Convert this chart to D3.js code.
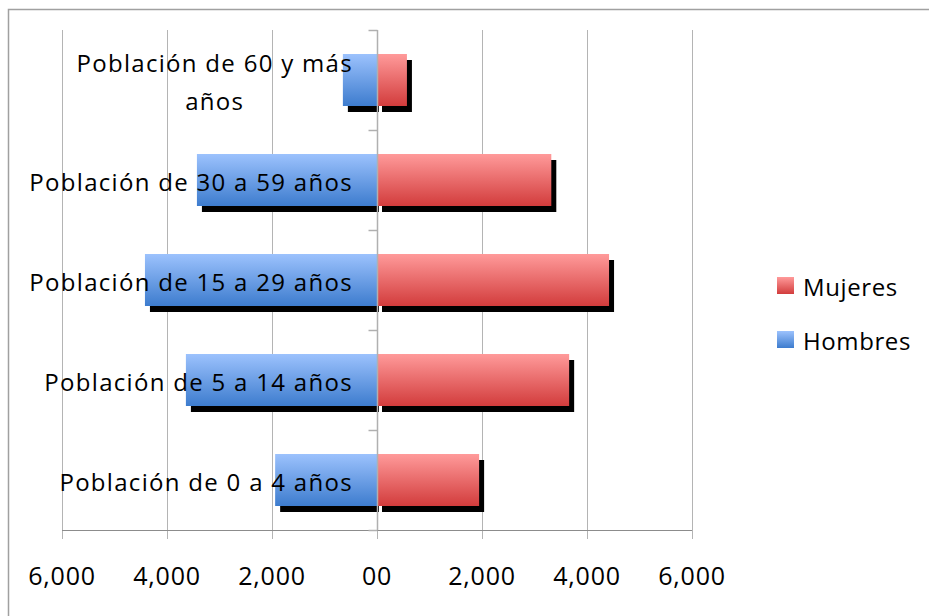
<!DOCTYPE html>
<html>
<head>
<meta charset="utf-8">
<script src="https://cdn.jsdelivr.net/npm/d3@7"></script>
<style>
  html, body { margin: 0; padding: 0; background: #ffffff; }
  svg { display: block; }
  text { font-family: "Open Sans", "DejaVu Sans", sans-serif; fill: #000; }
</style>
</head>
<body>
<svg id="chart" width="929" height="616"></svg>
<script>
// Age groups, bottom to top
const categories = [
  "Población de 0 a 4 años",
  "Población de 5 a 14 años",
  "Población de 15 a 29 años",
  "Población de 30 a 59 años",
  "Población de 60 y más años"
];
// Two-line layout for the longest label
const categoryLines = [
  ["Población de 0 a 4 años"],
  ["Población de 5 a 14 años"],
  ["Población de 15 a 29 años"],
  ["Población de 30 a 59 años"],
  ["Población de 60 y más", "años"]
];
const hombres = [1940, 3640, 4420, 3430, 650];
const mujeres = [1945, 3660, 4420, 3320, 570];
const tickValues = [-6000, -4000, -2000, 0, 2000, 4000, 6000];
const tickLabels = ["6,000", "4,000", "2,000", "00", "2,000", "4,000", "6,000"];
const seriesNames = ["Mujeres", "Hombres"];

const svg = d3.select("#chart");
const defs = svg.append("defs");

function vGrad(id, top, bottom) {
  const g = defs.append("linearGradient").attr("id", id)
    .attr("x1", 0).attr("y1", 0).attr("x2", 0).attr("y2", 1);
  g.append("stop").attr("offset", "0%").attr("stop-color", top);
  g.append("stop").attr("offset", "100%").attr("stop-color", bottom);
}
vGrad("gBlue", "#9cc2fd", "#3d7cce");
vGrad("gRed", "#ff9a9a", "#d23c3c");

// Outer frame
svg.append("rect")
  .attr("x", 8.5).attr("y", 9.5).attr("width", 940).attr("height", 640)
  .attr("fill", "none").attr("stroke", "#a0a0a0").attr("stroke-width", 1.5);

const x = d3.scaleLinear().domain([-6000, 6000]).range([62, 692]);
const y = d3.scaleBand()
  .domain(categories.slice().reverse())
  .range([30, 530])
  .paddingInner(0.48)
  .paddingOuter(0.24);

const plotTop = 30, plotBottom = 530;

// Vertical gridlines (extend below the axis as tick marks)
svg.append("g").selectAll("line")
  .data(tickValues)
  .join("line")
  .attr("x1", d => Math.round(x(d)) + 0.5)
  .attr("x2", d => Math.round(x(d)) + 0.5)
  .attr("y1", plotTop)
  .attr("y2", plotBottom + 9)
  .attr("stroke", "#b4b4b4")
  .attr("stroke-width", 1);

// Horizontal axis line
svg.append("line")
  .attr("x1", x(-6000)).attr("x2", x(6000))
  .attr("y1", plotBottom + 0.5).attr("y2", plotBottom + 0.5)
  .attr("stroke", "#8c8c8c").attr("stroke-width", 1.2);

// X tick labels
svg.append("g").selectAll("text")
  .data(tickValues)
  .join("text")
  .attr("x", d => x(d))
  .attr("y", 585)
  .attr("text-anchor", "middle")
  .style("font-size", "25px")
  .style("letter-spacing", "0.8px")
  .text((d, i) => tickLabels[i]);

const rows = categories.map((c, i) => ({ c, h: hombres[i], m: mujeres[i], lines: categoryLines[i] }));
const bh = y.bandwidth();

// Drop shadows
const shadows = svg.append("g");
shadows.selectAll("rect.sh")
  .data(rows)
  .join("rect")
  .attr("class", "sh")
  .attr("x", d => x(-d.h) + 5)
  .attr("y", d => y(d.c) + 6)
  .attr("width", d => x(0) - x(-d.h) - 3)
  .attr("height", bh)
  .attr("fill", "#000");
shadows.selectAll("rect.sm")
  .data(rows)
  .join("rect")
  .attr("class", "sm")
  .attr("x", d => x(0) + 5)
  .attr("y", d => y(d.c) + 6)
  .attr("width", d => x(d.m) - x(0))
  .attr("height", bh)
  .attr("fill", "#000");

// Bars
svg.append("g").selectAll("rect")
  .data(rows)
  .join("rect")
  .attr("x", d => x(-d.h))
  .attr("y", d => y(d.c))
  .attr("width", d => x(0) - x(-d.h))
  .attr("height", bh)
  .attr("fill", "url(#gBlue)");
svg.append("g").selectAll("rect")
  .data(rows)
  .join("rect")
  .attr("x", d => x(0))
  .attr("y", d => y(d.c))
  .attr("width", d => x(d.m) - x(0))
  .attr("height", bh)
  .attr("fill", "url(#gRed)");

// Vertical category axis at zero with small ticks between groups
const x0 = Math.round(x(0)) + 0.5;
svg.append("line")
  .attr("x1", x0).attr("x2", x0)
  .attr("y1", plotTop).attr("y2", plotBottom)
  .attr("stroke", "#b0b0b0").attr("stroke-width", 1.5);
const bounds = d3.range(0, categories.length + 1).map(i => plotTop + i * y.step());
svg.append("g").selectAll("line")
  .data(bounds)
  .join("line")
  .attr("x1", x0 - 9).attr("x2", x0)
  .attr("y1", d => Math.round(d) + 0.5).attr("y2", d => Math.round(d) + 0.5)
  .attr("stroke", "#b0b0b0").attr("stroke-width", 1.5);

// Category labels, right edge a little left of the axis
const labelRight = 353;
const lg = svg.append("g");
rows.forEach(r => {
  const cy = y(r.c) + bh / 2;
  const lineH = 38;
  const t = lg.append("text")
    .attr("text-anchor", "middle")
    .style("font-size", "24px")
    .style("letter-spacing", "1.3px");
  r.lines.forEach((ln, k) => {
    t.append("tspan")
      .attr("y", cy + 11 + (k - (r.lines.length - 1) / 2) * lineH)
      .text(ln);
  });
  const w = d3.max(t.selectAll("tspan").nodes(), n => n.getComputedTextLength());
  t.selectAll("tspan").attr("x", labelRight - w / 2);
});

// Legend
const legendItems = [
  { name: seriesNames[0], fill: "url(#gRed)", y: 277 },
  { name: seriesNames[1], fill: "url(#gBlue)", y: 331 }
];
const leg = svg.append("g").selectAll("g")
  .data(legendItems)
  .join("g");
leg.append("rect")
  .attr("x", 777).attr("y", d => d.y)
  .attr("width", 17).attr("height", 17)
  .attr("fill", d => d.fill);
leg.append("text")
  .attr("x", 803).attr("y", d => d.y + 19)
  .style("font-size", "24px")
  .style("letter-spacing", "0.6px")
  .text(d => d.name);
</script>
</body>
</html>
